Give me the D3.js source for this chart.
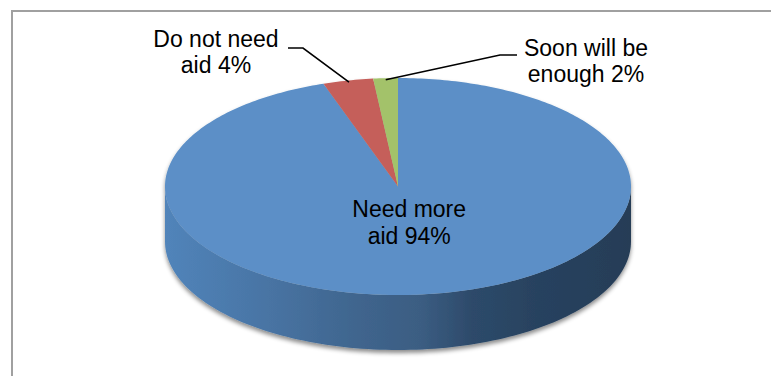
<!DOCTYPE html>
<html>
<head>
<meta charset="utf-8">
<script src="https://cdn.jsdelivr.net/npm/d3@7"></script>
<style>
  html, body { margin: 0; padding: 0; background: #fff; overflow: hidden; }
  svg { display: block; }
  text { font-family: "Liberation Sans", Arial, sans-serif; font-size: 23px; fill: #000; }
</style>
</head>
<body>
<svg id="chart" width="771" height="376"></svg>
<script>
// ---- data ----
const categories = ["Need more aid", "Do not need aid", "Soon will be enough"];
const values = [94, 4, 2];
const labelLines = [["Need more", "aid 94%"], ["Do not need", "aid 4%"], ["Soon will be", "enough 2%"]];
const topColors = ["#5b8fc7", "#c55f5a", "#a3c26b"];

// ---- layout ----
const W = 771, H = 376;
const cx = 398, cy = 186.5, rx = 233, ry = 108.5, depth = 55;
const warp = 0.075; // perspective foreshortening of angles at the back

const svg = d3.select("#chart");
const defs = svg.append("defs");

const flt = defs.append("filter").attr("id", "shadow")
  .attr("x", "-10%").attr("y", "-10%").attr("width", "120%").attr("height", "130%");
flt.append("feDropShadow").attr("dx", 0).attr("dy", 3).attr("stdDeviation", 2.2)
  .attr("flood-color", "#000").attr("flood-opacity", 0.45);

const grad = defs.append("linearGradient").attr("id", "sideGrad")
  .attr("gradientUnits", "userSpaceOnUse")
  .attr("x1", cx - rx).attr("x2", cx + rx).attr("y1", 0).attr("y2", 0);
[[0, "#5184ba"], [0.18, "#4a77a8"], [0.4, "#40668f"], [0.55, "#3b5d82"], [0.66, "#2d4a6a"], [0.8, "#28425f"], [1, "#253d57"]]
  .forEach(([o, c]) => grad.append("stop").attr("offset", o).attr("stop-color", c));

// border (top and left edges; the frame continues past the page)
svg.append("path").attr("d", `M12,${H}V11H${W}`)
  .attr("fill", "none").attr("stroke", "#a0a0a0").attr("stroke-width", 2);

const pie = d3.pie().sort(null).value(d => d)(values);

const tw = a => a - warp * Math.sin(2 * a);      // data angle -> ellipse parametric angle
const px = (t, f = 1) => cx + rx * f * Math.sin(t);
const py = (t, f = 1) => cy - ry * f * Math.cos(t);

const g = svg.append("g").attr("filter", "url(#shadow)");

// side walls (visible front half: angles between PI/2 and 3PI/2)
pie.forEach((s, i) => {
  const a0 = Math.max(tw(s.startAngle), Math.PI / 2);
  const a1 = Math.min(tw(s.endAngle), 3 * Math.PI / 2);
  if (a1 <= a0) return;
  const n = 120;
  const top = d3.range(n + 1).map(k => a0 + (a1 - a0) * k / n);
  const pts = top.map(t => [px(t), py(t)])
    .concat(top.slice().reverse().map(t => [px(t), py(t) + depth]));
  g.append("path")
    .attr("d", d3.line()(pts) + "Z")
    .attr("fill", i === 0 ? "url(#sideGrad)" : d3.color(topColors[i]).darker(0.8));
});

// top faces
pie.forEach((s, i) => {
  const t0 = tw(s.startAngle), t1 = tw(s.endAngle);
  const n = Math.max(8, Math.ceil((t1 - t0) * 60));
  const pts = [[cx, cy]].concat(d3.range(n + 1).map(k => {
    const t = t0 + (t1 - t0) * k / n;
    return [px(t), py(t)];
  }));
  g.append("path").attr("d", d3.line()(pts) + "Z").attr("fill", topColors[i]);
});

// inside label (largest slice)
{
  const s = pie[0];
  const t = tw((s.startAngle + s.endAngle) / 2);
  const lx = px(t, 0.3), ly = py(t, 0.3);
  const tx = svg.append("text").attr("text-anchor", "middle");
  labelLines[0].forEach((l, k) => tx.append("tspan").attr("x", lx).attr("y", ly + (k === 0 ? -2 : 25)).text(l));
}

// outside labels with leader lines
const outside = [
  { i: 1, x: 216, y: 47, elbow: [[288, 48], [303, 48]] },
  { i: 2, x: 586, y: 56, elbow: [[517, 55], [500, 55]] }
];
outside.forEach(o => {
  const s = pie[o.i];
  const t = tw((s.startAngle + s.endAngle) / 2);
  const end = [px(t, 0.985), py(t, 0.985)];
  svg.append("path")
    .attr("d", d3.line()(o.elbow.concat([end])))
    .attr("fill", "none").attr("stroke", "#000").attr("stroke-width", 1.6);
  const tx = svg.append("text").attr("text-anchor", "middle");
  labelLines[o.i].forEach((l, k) => tx.append("tspan").attr("x", o.x).attr("y", o.y + k * 26).text(l));
});
</script>
</body>
</html>
